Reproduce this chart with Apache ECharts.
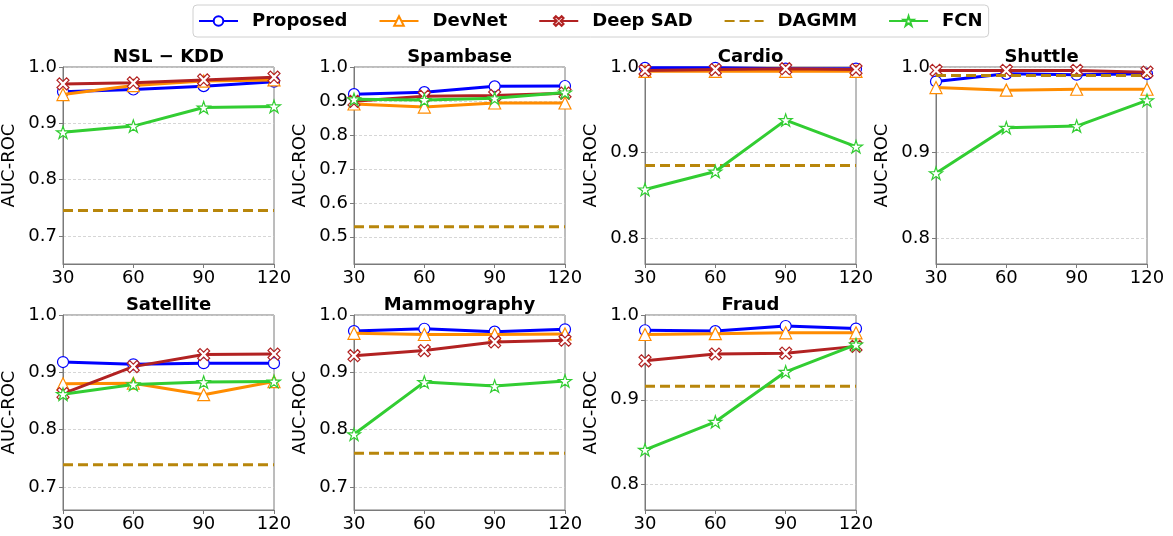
<!DOCTYPE html>
<html>
<head>
<meta charset="utf-8">
<script src="https://cdn.jsdelivr.net/npm/echarts@6/dist/echarts.min.js"></script>
<style>
  html, body { margin: 0; padding: 0; background: #fff; }
  #main { width: 1173px; height: 536px; }
</style>
</head>
<body>
<div id="main"></div>
<script>
// values
let xTicks = [30, 60, 90, 120];
let datasets = ['NSL \u2212 KDD', 'Spambase', 'Cardio', 'Shuttle', 'Satellite', 'Mammography', 'Fraud'];
let methods = ['Proposed', 'DevNet', 'Deep SAD', 'DAGMM', 'FCN'];

let proposed = [
  [0.956, 0.960, 0.966, 0.974],
  [0.920, 0.926, 0.943, 0.944],
  [0.999, 0.999, 0.998, 0.998],
  [0.983, 0.992, 0.991, 0.992],
  [0.918, 0.914, 0.916, 0.916],
  [0.972, 0.976, 0.971, 0.975],
  [0.982, 0.981, 0.987, 0.984]
];
let devnet = [
  [0.951, 0.967, 0.975, 0.977],
  [0.891, 0.882, 0.894, 0.894],
  [0.995, 0.995, 0.995, 0.995],
  [0.976, 0.973, 0.974, 0.974],
  [0.880, 0.881, 0.861, 0.884],
  [0.968, 0.966, 0.966, 0.967],
  [0.977, 0.978, 0.979, 0.979]
];
let deepSAD = [
  [0.970, 0.972, 0.977, 0.982],
  [0.899, 0.914, 0.916, 0.923],
  [0.996, 0.997, 0.998, 0.997],
  [0.996, 0.996, 0.996, 0.994],
  [0.863, 0.910, 0.931, 0.932],
  [0.929, 0.938, 0.953, 0.956],
  [0.946, 0.954, 0.955, 0.963]
];
let dagmm = [
  [0.745, 0.745, 0.745, 0.745],
  [0.530, 0.530, 0.530, 0.530],
  [0.885, 0.885, 0.885, 0.885],
  [0.990, 0.990, 0.990, 0.990],
  [0.739, 0.739, 0.739, 0.739],
  [0.759, 0.759, 0.759, 0.759],
  [0.916, 0.916, 0.916, 0.916]
];
let fcn = [
  [0.884, 0.895, 0.928, 0.930],
  [0.905, 0.903, 0.908, 0.925],
  [0.857, 0.878, 0.938, 0.907],
  [0.876, 0.929, 0.931, 0.961],
  [0.862, 0.879, 0.883, 0.884],
  [0.792, 0.883, 0.876, 0.885],
  [0.841, 0.874, 0.933, 0.965]
];

let yMin = [0.65, 0.42, 0.77, 0.77, 0.66, 0.66, 0.77];
let yMax = [1.0, 1.0, 1.0, 1.0, 1.0, 1.0, 1.0];
let yTicks = [
  [0.7, 0.8, 0.9, 1.0],
  [0.5, 0.6, 0.7, 0.8, 0.9, 1.0],
  [0.8, 0.9, 1.0],
  [0.8, 0.9, 1.0],
  [0.7, 0.8, 0.9, 1.0],
  [0.7, 0.8, 0.9, 1.0],
  [0.8, 0.9, 1.0]
];

const FONT = 'DejaVu Sans';
const AXIS_GREY = '#7a7a7a';
const colors = ['#0000ff', '#ff8c00', '#b22222', '#b8860b', '#32cd32'];
const xPath = 'path://M2,0 L5,3 L8,0 L10,2 L7,5 L10,8 L8,10 L5,7 L2,10 L0,8 L3,5 L0,2 Z';
const starPath = 'path://M50,0 L61.23,34.55 L97.55,34.55 L68.17,55.9 L79.39,90.45 L50,69.1 L20.61,90.45 L31.83,55.9 L2.45,34.55 L38.77,34.55 Z';
const symbols = ['circle', 'triangle', xPath, 'circle', starPath];
const symbolSizes = [11, 12, 12, 0, 13];
const allData = [proposed, devnet, deepSAD, dagmm, fcn];

// panel boxes in px
const lefts = [63, 354, 645, 936, 63, 354, 645];
const tops = [67, 67, 67, 67, 315, 315, 315];
const heights = [197, 197, 197, 197, 195, 195, 195];
const W = 211;

let grids = [], xAxes = [], yAxes = [], titles = [], series = [];

datasets.forEach((name, i) => {
  grids.push({
    left: lefts[i], top: tops[i], width: W, height: heights[i],
    show: true, borderColor: AXIS_GREY, borderWidth: 1, backgroundColor: 'transparent',
    outerBoundsMode: 'none'
  });
  titles.push({
    text: name, left: lefts[i] + W / 2, top: tops[i] - 19, textAlign: 'center',
    padding: 0,
    textStyle: { fontFamily: FONT, fontSize: 18, fontWeight: 'bold', color: '#000' }
  });
  xAxes.push({
    type: 'value', gridIndex: i, min: 30, max: 120, interval: 30,
    axisLine: { show: true, lineStyle: { color: AXIS_GREY, width: 1 } },
    axisTick: { show: true, length: 4, lineStyle: { color: AXIS_GREY } },
    axisLabel: { fontFamily: FONT, fontSize: 18, color: '#000', margin: 5, showMinLabel: true, showMaxLabel: true },
    splitLine: { show: false }
  });
  yAxes.push({
    type: 'value', gridIndex: i, min: yMin[i], max: yMax[i],
    name: 'AUC-ROC', nameLocation: 'middle', nameGap: 45, nameRotate: 90,
    nameTextStyle: { fontFamily: FONT, fontSize: 18, color: '#000' },
    axisLine: { show: true, lineStyle: { color: AXIS_GREY, width: 1 } },
    axisTick: { show: true, length: 4, customValues: yTicks[i], lineStyle: { color: AXIS_GREY } },
    axisLabel: {
      fontFamily: FONT, fontSize: 18, color: '#000', margin: 6,
      customValues: yTicks[i], formatter: v => v.toFixed(1)
    },
    splitLine: { show: true, lineStyle: { color: '#cccccc', width: 0.8, type: [3, 2] } }
  });

  methods.forEach((m, k) => {
    let dashed = k === 3;
    series.push({
      name: m, type: 'line', xAxisIndex: i, yAxisIndex: i,
      data: xTicks.map((x, j) => [x, allData[k][i][j]]),
      symbol: symbols[k], symbolSize: symbolSizes[k], symbolKeepAspect: true,
      showSymbol: !dashed,
      lineStyle: { color: colors[k], width: 3, type: dashed ? [10, 5] : 'solid' },
      itemStyle: dashed
        ? { color: 'rgba(0,0,0,0)', borderColor: 'rgba(0,0,0,0)', borderWidth: 0 }
        : { color: '#fff', borderColor: colors[k], borderWidth: 1.2 },
      emphasis: { disabled: true },
      z: 2 + k
    });
  });
});

let chart = echarts.init(document.getElementById('main'), null, { renderer: 'canvas' });
chart.setOption({
  animation: false,
  backgroundColor: '#fff',
  title: titles,
  legend: {
    data: methods,
    left: 193, top: 5,
    padding: [7, 6, 7, 5],
    itemWidth: 39, itemHeight: 12, itemGap: 31,
    borderColor: '#d0d0d0', borderWidth: 1, borderRadius: 4,
    textStyle: { fontFamily: FONT, fontSize: 18, fontWeight: 'bold', color: '#000', padding: [0, 0, 0, 9] }
  },
  grid: grids,
  xAxis: xAxes,
  yAxis: yAxes,
  series: series
});
</script>
</body>
</html>
